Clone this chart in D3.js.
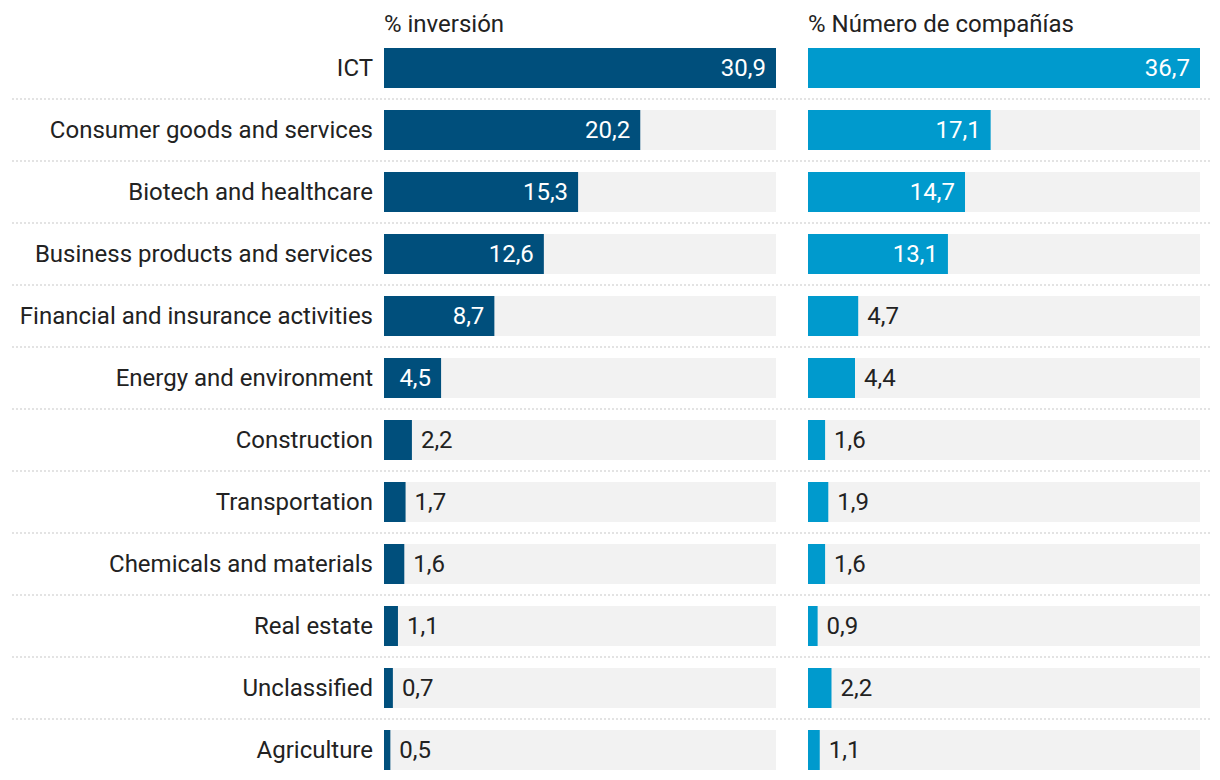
<!DOCTYPE html>
<html><head><meta charset="utf-8">
<script src="https://cdn.jsdelivr.net/npm/d3@7"></script>
<style>body{margin:0;background:#fff;} text{font-family:Roboto,sans-serif;}</style>
</head><body>
<svg id="c" width="1220" height="780"></svg>
<script>
const categories = ["ICT","Consumer goods and services","Biotech and healthcare","Business products and services","Financial and insurance activities","Energy and environment","Construction","Transportation","Chemicals and materials","Real estate","Unclassified","Agriculture"];
const inversion = [30.9,20.2,15.3,12.6,8.7,4.5,2.2,1.7,1.6,1.1,0.7,0.5];
const companias = [36.7,17.1,14.7,13.1,4.7,4.4,1.6,1.9,1.6,0.9,2.2,1.1];
const panelTitles = ["% inversión","% Número de compañías"];

const svg = d3.select("#c");
const fs = 24;
const y = d3.scaleBand().domain(categories).range([37, 37+62*12]).paddingInner(22/62).paddingOuter(11/62);
const fmt = d => d.toFixed(1).replace(".", ",");

const panels = [
  {vals: inversion, x0: 384, x1: 776, color: "#004f7c", title: panelTitles[0]},
  {vals: companias, x0: 808, x1: 1200, color: "#009acd", title: panelTitles[1]}
];

// separators
categories.slice(0, -1).forEach((c, i) => {
  const yy = y(c) + y.bandwidth() + 11;
  svg.append("line").attr("x1", 12).attr("x2", 1212).attr("y1", yy).attr("y2", yy)
    .attr("stroke", "#c8c8c8").attr("stroke-width", 1.2).attr("stroke-dasharray", "2,2");
});

// category labels
svg.selectAll("text.cat").data(categories).join("text").attr("class","cat")
  .attr("x", 373).attr("y", d => y(d) + y.bandwidth()/2).attr("dy", "0.35em")
  .attr("text-anchor", "end").attr("font-size", fs).attr("fill", "#222").text(d => d);

panels.forEach(p => {
  const x = d3.scaleLinear().domain([0, d3.max(p.vals)]).range([p.x0, p.x1]);
  const g = svg.append("g");
  g.append("text").attr("x", p.x0).attr("y", 32).attr("font-size", fs).attr("fill", "#222").text(p.title);
  const data = categories.map((c, i) => ({c, v: p.vals[i]}));
  g.selectAll("rect.bg").data(data).join("rect").attr("x", x(0)).attr("y", d => y(d.c))
    .attr("width", x.range()[1]-x(0)).attr("height", y.bandwidth()).attr("fill", "#f2f2f2");
  g.selectAll("rect.bar").data(data).join("rect").attr("x", x(0)).attr("y", d => y(d.c))
    .attr("width", d => x(d.v)-x(0)).attr("height", y.bandwidth()).attr("fill", p.color);
  g.selectAll("text.val").data(data).join("text")
    .attr("y", d => y(d.c) + y.bandwidth()/2).attr("dy", "0.35em").attr("font-size", fs)
    .each(function(d){
      const w = x(d.v) - x(0);
      const inside = w > 54;
      d3.select(this).attr("x", inside ? x(d.v) - 10 : x(d.v) + 9)
        .attr("text-anchor", inside ? "end" : "start")
        .attr("fill", inside ? "#fff" : "#222").text(fmt(d.v));
    });
});
</script>
</body></html>
